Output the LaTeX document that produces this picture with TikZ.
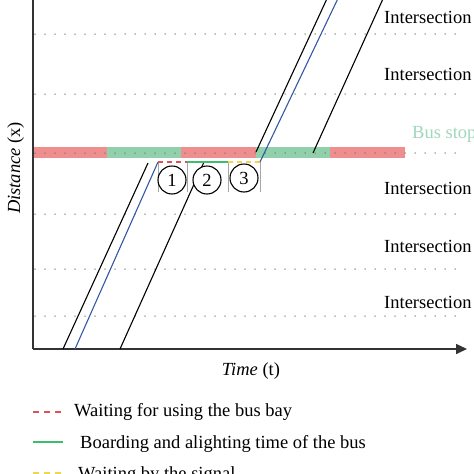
\documentclass[tikz,border=0pt]{standalone}
\usepackage{fontspec}
\setmainfont{Liberation Serif}
\usetikzlibrary{arrows.meta}
\definecolor{barred}{HTML}{EE8E8E}
\definecolor{bargreen}{HTML}{90D0AA}
\definecolor{stoptext}{HTML}{A0D6BC}
\definecolor{dashred}{HTML}{E0505A}
\definecolor{solidgreen}{HTML}{3DBE6E}
\definecolor{dashyellow}{HTML}{F2D54A}
\definecolor{busblue}{HTML}{3457A8}
\definecolor{axisgray}{HTML}{333333}
\tikzset{
  lbl/.style={inner sep=0pt, anchor=base west},
  dotrow/.style={draw=black!55, line width=1.5pt, line cap=round, dash pattern=on 0pt off 10pt},
  traj/.style={draw=black, line width=1.1pt},
  bustraj/.style={draw=busblue, line width=1.1pt},
  bracket/.style={draw=gray!70, line width=1pt},
  numcirc/.style={circle, draw=black, line width=1.1pt, minimum size=28pt, inner sep=0pt, fill=white},
  axisline/.style={draw=axisgray, line width=1.6pt},
}
\begin{document}
\begin{tikzpicture}[x=1pt,y=-1pt, font=\fontsize{18.5}{20}\selectfont]
\useasboundingbox (0,0) rectangle (474,474);
\clip (0,0) rectangle (474,474);
% bus stop bar
\fill[barred] (33,147) rectangle (107,158);
\fill[bargreen] (107,147) rectangle (181,158);
\fill[barred] (181,147) rectangle (256,158);
\fill[bargreen] (256,147) rectangle (330,158);
\fill[barred] (330,147) rectangle (405,158);
% dotted rows
\foreach \yy in {34,94,153,214,269,316} {
  \draw[dotrow] (35,\yy) -- (462,\yy);
}
% labels
\node[lbl] (i1) at (384,23) {Intersection};
\node[lbl] (i2) at (384,80) {Intersection};
\node[lbl, text=stoptext] (bs) at (412,138) {Bus stop};
\node[lbl] (i3) at (384,194) {Intersection};
\node[lbl] (i4) at (384,252) {Intersection};
\node[lbl] (i5) at (384,308) {Intersection};
% axes
\coordinate (o) at (33,349);
\coordinate (ytop) at (33,-5);
\coordinate (xend) at (467,349);
\draw[axisline] (ytop) -- (o);
\draw[axisline, -{Triangle[length=11pt,width=10pt]}] (o) -- (xend);
\node[inner sep=0pt, anchor=base, rotate=90] (ylab) at (20,168) {\textit{Distance} (x)};
\node[inner sep=0pt, anchor=base] (xlab) at (251,375) {\textit{Time} (t)};
% brackets
\foreach \xx in {158,187,228,260} {
  \draw[bracket] (\xx,162) -- (\xx,192);
}
% trajectories
\coordinate (a0) at (63,349); \coordinate (a1) at (148,163);
\draw[traj] (a0) -- (a1);
\coordinate (c0) at (120,349); \coordinate (c1) at (204,162);
\draw[traj] (c0) -- (c1);
\coordinate (b0) at (256,152); \coordinate (b1) at (331,-10);
\draw[traj] (b0) -- (b1);
\coordinate (d0) at (313,153); \coordinate (d1) at (387,-10);
\draw[traj] (d0) -- (d1);
\coordinate (u0) at (75,349); \coordinate (u1) at (158,162);
\coordinate (u2) at (187,162); \coordinate (u3) at (228,162);
\coordinate (u4) at (260,162); \coordinate (u5) at (342,-10);
\draw[bustraj] (u0) -- (u1);
\draw[dashred, line width=1.3pt, dash pattern=on 5pt off 4pt] (u1) -- (u2);
\draw[solidgreen, line width=1.3pt] (u2) -- (u3);
\draw[dashyellow, line width=1.3pt, dash pattern=on 5pt off 4pt] (u3) -- (u4);
\draw[bustraj] (u4) -- (u5);
% numbered circles
\node[numcirc] (n1) at (172,180) {1};
\node[numcirc] (n2) at (207,180) {2};
\node[numcirc] (n3) at (244,178) {3};
% legend
\coordinate (l1a) at (33,412); \coordinate (l1b) at (63,412);
\draw[dashred, line width=1.3pt, dash pattern=on 6pt off 5pt] (l1a) -- (l1b);
\node[lbl] (t1) at (74,416) {Waiting for using the bus bay};
\coordinate (l2a) at (33,442); \coordinate (l2b) at (63,442);
\draw[solidgreen, line width=1.3pt] (l2a) -- (l2b);
\node[lbl] (t2) at (80,448) {Boarding and alighting time of the bus};
\coordinate (l3a) at (33,473); \coordinate (l3b) at (63,473);
\draw[dashyellow, line width=1.3pt, dash pattern=on 6pt off 5pt] (l3a) -- (l3b);
\node[lbl] (t3) at (78,479) {Waiting by the signal};
\end{tikzpicture}
\end{document}
